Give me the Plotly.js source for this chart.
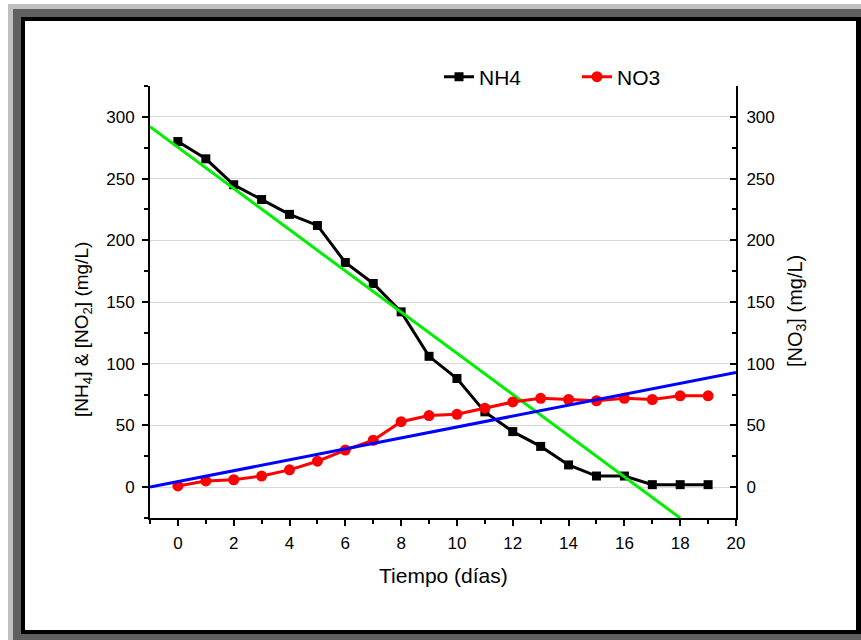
<!DOCTYPE html>
<html><head><meta charset="utf-8">
<script src="https://cdn.plot.ly/plotly-3.0.1.min.js"></script>
<style>
html,body{margin:0;padding:0;width:861px;height:640px;overflow:hidden;background:#fff;}
.f{position:absolute;}
#f1{left:8px;top:4px;width:853px;height:636px;background:#c0c0c0;}
#f2{left:13px;top:9px;width:848px;height:631px;background:#606060;}
#f3{left:21px;top:17px;width:840px;height:617px;background:#000;}
#f4{left:25px;top:21px;width:831px;height:609px;background:#fff;}
#chart{position:absolute;left:0;top:0;width:861px;height:640px;}
</style></head>
<body>
<div class="f" id="f1"></div><div class="f" id="f2"></div><div class="f" id="f3"></div><div class="f" id="f4"></div>
<div id="chart"></div>
<script>
var days = [0,1,2,3,4,5,6,7,8,9,10,11,12,13,14,15,16,17,18,19];
var nh4 = [280,266,245,233,221,212,182,165,142,106,88,61,45,33,18,9,9,2,2,2];
var no3 = [1,5,6,9,14,21,30,38,53,58,59,64,69,72,71,70,72,71,74,74];
var fitNH4X = [-1,18];
var fitNH4Y = [292,-25];
var fitNO3X = [-1,20];
var fitNO3Y = [0,93];
var xTitle = 'Tiempo (días)';
var yTitle = '[NH<sub>4</sub>] &amp; [NO<sub>2</sub>] (mg/L)';
var y2Title = '[NO<sub>3</sub>] (mg/L)';

var FONT = 'Liberation Sans, Arial, sans-serif';
var L = 150, R = 125, T = 86, B = 122, W = 861, H = 640;
var pw = W - L - R, ph = H - T - B;
function px(x){ return (x - L) / pw; }
function py(y){ return (H - B - y) / ph; }

var traces = [
  {x: days, y: nh4, name: 'NH4', type: 'scatter', mode: 'lines+markers', yaxis: 'y',
   line: {color: '#000000', width: 3}, marker: {symbol: 'square', size: 9, color: '#000000'}},
  {x: fitNH4X, y: fitNH4Y, type: 'scatter', mode: 'lines', yaxis: 'y', showlegend: false,
   line: {color: '#00ee00', width: 3}, hoverinfo: 'skip'},
  {x: days, y: no3, name: 'NO3', type: 'scatter', mode: 'lines+markers', yaxis: 'y2',
   line: {color: '#ff0000', width: 3}, marker: {symbol: 'circle', size: 11, color: '#ff0000'}},
  {x: fitNO3X, y: fitNO3Y, type: 'scatter', mode: 'lines', yaxis: 'y2', showlegend: false,
   line: {color: '#0000ff', width: 3}, hoverinfo: 'skip'}
];

var tickFont = {family: FONT, size: 17, color: '#000'};
var layout = {
  width: W, height: H,
  margin: {l: L, r: R, t: T, b: B, pad: 0},
  paper_bgcolor: 'rgba(0,0,0,0)', plot_bgcolor: 'rgba(0,0,0,0)',
  font: {family: FONT, color: '#000'},
  showlegend: true,
  legend: {orientation: 'h', x: px(439), xanchor: 'left', y: 1 + (T - 77) / ph, yanchor: 'middle',
           font: {family: FONT, size: 21, color: '#000'}, bgcolor: 'rgba(0,0,0,0)',
           entrywidth: 93, entrywidthmode: 'pixels'},
  xaxis: {range: [-1, 20], tick0: 0, dtick: 2, showgrid: false, zeroline: false,
          showline: true, linecolor: '#000', linewidth: 2, mirror: false,
          ticks: 'outside', ticklen: 6, tickwidth: 2, tickcolor: '#000',
          minor: {dtick: 1, tick0: 0, ticks: 'outside', ticklen: 4, tickwidth: 2, tickcolor: '#000'},
          tickfont: tickFont, ticklabelstandoff: 3},
  yaxis: {range: [-25, 325], tick0: 0, dtick: 50, showgrid: true, gridcolor: '#d8d8d8', gridwidth: 1,
          zeroline: false, showline: true, linecolor: '#000', linewidth: 2,
          ticks: 'outside', ticklen: 6, tickwidth: 2, tickcolor: '#000',
          minor: {dtick: 25, tick0: 0, ticks: 'outside', ticklen: 4, tickwidth: 2, tickcolor: '#000', showgrid: false},
          tickfont: tickFont, ticklabelstandoff: 4},
  yaxis2: {range: [-25, 325], tick0: 0, dtick: 50, overlaying: 'y', side: 'right', showgrid: false,
          zeroline: false, showline: true, linecolor: '#000', linewidth: 2,
          ticks: 'inside', ticklen: 6, tickwidth: 2, tickcolor: '#000',
          minor: {dtick: 25, tick0: 0, ticks: 'inside', ticklen: 4, tickwidth: 2, tickcolor: '#000', showgrid: false},
          tickfont: tickFont, ticklabelstandoff: 5},
  annotations: [
    {text: xTitle, xref: 'paper', yref: 'paper', x: px(443), y: py(575), xanchor: 'center', yanchor: 'middle',
     showarrow: false, font: {family: FONT, size: 21, color: '#000'}},
    {text: yTitle, xref: 'paper', yref: 'paper', x: px(83), y: py(330), xanchor: 'center', yanchor: 'middle',
     textangle: -90, showarrow: false, font: {family: FONT, size: 19, color: '#000'}},
    {text: y2Title, xref: 'paper', yref: 'paper', x: px(796), y: py(311), xanchor: 'center', yanchor: 'middle',
     textangle: -90, showarrow: false, font: {family: FONT, size: 20, color: '#000'}}
  ]
};
Plotly.newPlot('chart', traces, layout, {displayModeBar: false, staticPlot: true});
</script>
</body></html>
